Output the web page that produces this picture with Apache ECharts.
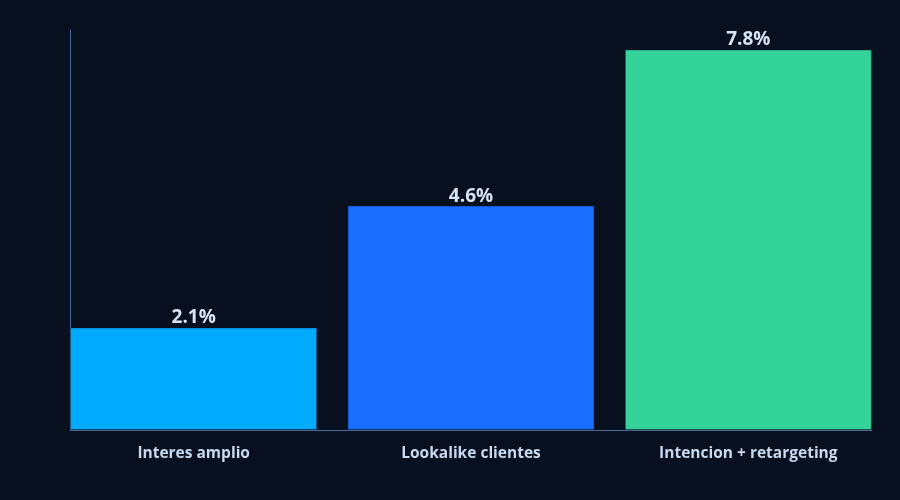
<!DOCTYPE html>
<html lang="es">
<head>
    <meta charset="UTF-8">
    <title>Tasa de conversion por segmento</title>
    <script src="https://cdn.jsdelivr.net/npm/echarts@6/dist/echarts.min.js"></script>
</head>
<body style="margin: 0; background-color: #081020">
<div id="container" style="width: 900px; height: 500px"></div>
<script type="text/javascript">
    // datos
    const categorias = ['Interes amplio', 'Lookalike clientes', 'Intencion + retargeting'];
    const valores = [2.1, 4.6, 7.8];
    const colores = ['#00aaff', '#1a6eff', '#34d399'];

    let myChart = echarts.init(document.getElementById('container'));
    // grid 0: solo las lineas de ejes; grid 1: barras y etiquetas
    let option = {
        backgroundColor: '#081020',
        animation: false,
        grid: [
            {left: 70, right: 28, top: 30, bottom: 70},
            {left: 55, right: 13, top: 30, bottom: 70}
        ],
        xAxis: [{
            type: 'category',
            gridIndex: 0,
            data: categorias,
            axisLine: {lineStyle: {color: '#4a6a98'}},
            axisTick: {show: false},
            axisLabel: {show: false}
        }, {
            type: 'category',
            gridIndex: 1,
            data: categorias,
            axisLine: {show: false},
            axisTick: {show: false},
            axisLabel: {
                color: '#c8daf2',
                fontSize: 15.5,
                fontWeight: 'bold',
                fontFamily: 'Open Sans',
                margin: 16
            }
        }],
        yAxis: [{
            type: 'value',
            gridIndex: 0,
            min: 0,
            max: 8.2,
            axisLine: {show: true, lineStyle: {color: '#4a6a98'}},
            axisTick: {show: false},
            axisLabel: {show: false},
            splitLine: {show: false}
        }, {
            type: 'value',
            gridIndex: 1,
            min: 0,
            max: 8.2,
            show: false
        }],
        series: [{
            type: 'bar',
            xAxisIndex: 1,
            yAxisIndex: 1,
            barWidth: 247,
            z: 3,
            data: valores.map(function (v, i) {
                return {value: v, itemStyle: {color: colores[i]}};
            }),
            itemStyle: {borderColor: 'rgba(8,16,32,0.35)', borderWidth: 1},
            label: {
                show: true,
                position: 'top',
                distance: 0,
                formatter: function (p) { return p.value.toFixed(1) + '%'; },
                color: '#d6e4f7',
                fontSize: 19,
                fontWeight: 'bold',
                fontFamily: 'Open Sans'
            }
        }]
    };
    myChart.setOption(option);
</script>
</body>
</html>
